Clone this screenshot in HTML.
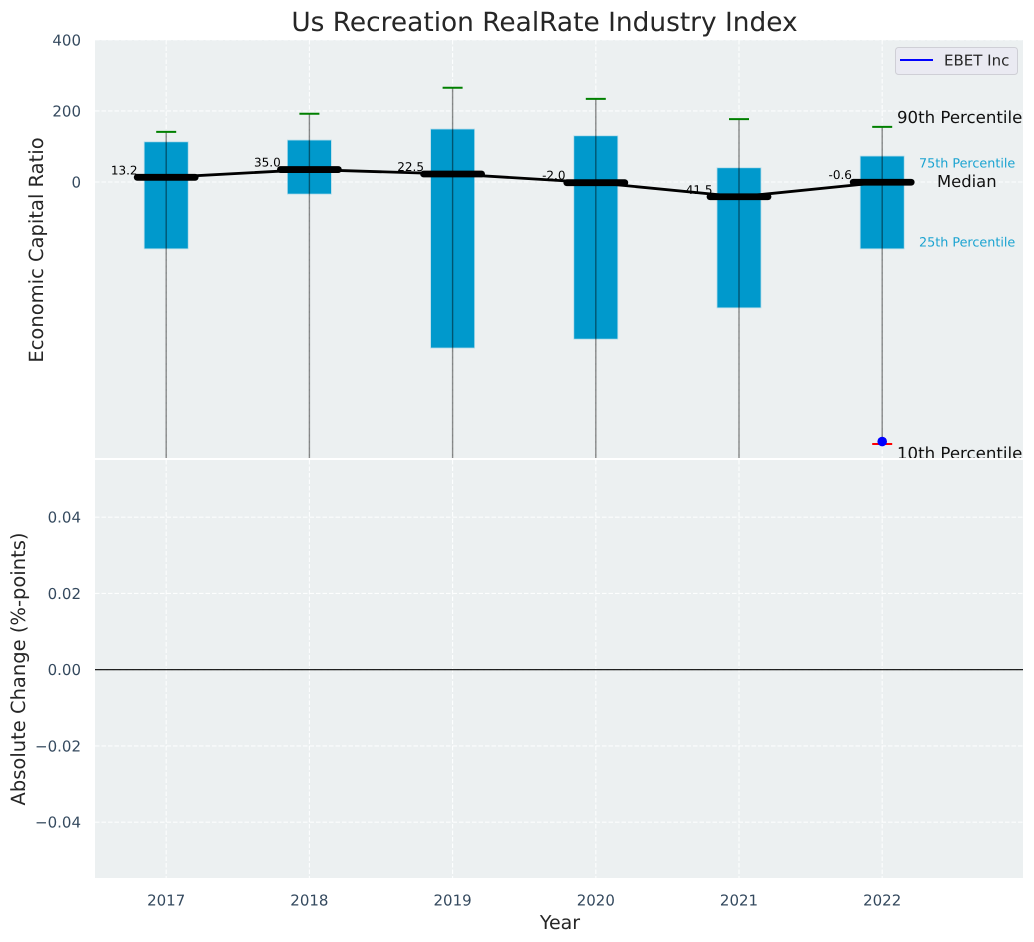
<!DOCTYPE html>
<html>
<head>
<meta charset="utf-8">
<title>Us Recreation RealRate Industry Index</title>
<style>
html,body{margin:0;padding:0;background:#fff;width:1034px;height:942px;overflow:hidden}
svg{display:block}
text{font-family:"DejaVu Sans","Liberation Sans",sans-serif;text-rendering:geometricPrecision}
</style>
</head>
<body>
<svg id="chart" xmlns="http://www.w3.org/2000/svg" width="1034" height="942" viewBox="0 0 1034 942"></svg>
<script>
const years = [2017, 2018, 2019, 2020, 2021, 2022];
const p90 = [141, 192, 265, 234, 177, 155];
const p75 = [113, 118, 149, 130, 40, 73];
const medians = [13.2, 35.0, 22.5, -2.0, -41.5, -0.6];
const p25 = [-188, -34, -467, -442, -354, -188];
const p10 = [-1400, -1300, -1500, -1500, -1300, -737];
const medianLabels = ["13.2", "35.0", "22.5", "-2.0", "-41.5", "-0.6"];
const companyYears = [2022];
const companyValues = [-730];
const topTicks = [0, 200, 400];
const bottomTicks = [-0.04, -0.02, 0, 0.02, 0.04];
const bottomTickLabels = ["\u22120.04", "\u22120.02", "0.00", "0.02", "0.04"];

const NS = "http://www.w3.org/2000/svg";
const svg = document.getElementById("chart");
const L = 95, R = 1023, T1 = 40, B1 = 458, T2 = 460, B2 = 878;
const X = v => 166.2 + (v - 2017) * 143.2;
const Y1 = v => 182 - v * 0.3555;
const Y2 = v => 669.7 - v * 3812;

function mk(tag, attrs, parent) {
  const el = document.createElementNS(NS, tag);
  for (const k in attrs) el.setAttribute(k, attrs[k]);
  (parent || svg).appendChild(el);
  return el;
}
function txt(str, attrs, parent) {
  const el = mk("text", attrs, parent);
  el.textContent = str;
  return el;
}
const gridStyle = {stroke:"#ffffff","stroke-width":1.1,"stroke-dasharray":"4.5 2","stroke-opacity":0.9};

/* clip for top axes */
const defs = mk("defs", {});
const cp = mk("clipPath", {id:"clipTop"}, defs);
mk("rect", {x:L, y:T1, width:R-L, height:B1-T1}, cp);

/* top panel */
const topBg = mk("rect", {x:L, y:T1, width:R-L, height:B1-T1, fill:"#ecf0f1"});



const topGrid = mk("g", gridStyle);


topTicks.forEach(t => mk("line", {x1:L, x2:R, y1:Y1(t), y2:Y1(t)}, topGrid));
years.forEach(y => mk("line", {x1:X(y), x2:X(y), y1:T1, y2:B1}, topGrid));

const marks = mk("g", {"clip-path":"url(#clipTop)"});



years.forEach((y, i) => {
  const x = X(y);
  const box = mk("rect", {x:x-22, y:Y1(p75[i]), width:44, height:Y1(p25[i])-Y1(p75[i]), fill:"#0099cc", stroke:"#b5dcea", "stroke-width":0.8}, marks);
  
  
  const whisk = mk("line", {x1:x, x2:x, y1:Y1(p90[i]), y2:Y1(p10[i]), stroke:"#000", "stroke-opacity":0.45, "stroke-width":1.4}, marks);
  
  
  const capHi = mk("line", {x1:x-10, x2:x+10, y1:Y1(p90[i]), y2:Y1(p90[i]), stroke:"#008000", "stroke-width":2}, marks);
  
  
  const capLo = mk("line", {x1:x-10, x2:x+10, y1:Y1(p10[i]), y2:Y1(p10[i]), stroke:"#ff0000", "stroke-width":2}, marks);
  
  
});

years.forEach((y, i) => {
  const lab = txt(medianLabels[i], {x:X(y)-42, y:Y1(medians[i])-3, "font-size":12, fill:"#000", "text-anchor":"middle"});
  
  
});

const medLine = mk("polyline", {points:years.map((y,i)=>X(y)+","+Y1(medians[i])).join(" "), fill:"none", stroke:"#000", "stroke-width":2.8}, marks);



years.forEach((y, i) => {
  const seg = mk("line", {x1:X(y)-29, x2:X(y)+29, y1:Y1(medians[i]), y2:Y1(medians[i]), stroke:"#000", "stroke-width":6.8, "stroke-linecap":"round"}, marks);
  
  
});

companyYears.forEach((y, i) => {
  const pt = mk("circle", {cx:X(y), cy:Y1(companyValues[i]), r:4.8, fill:"#0000ff"}, marks);
  
  
});

/* annotations */
const ann = [
  ["90th Percentile", 897, 123, 16.6, "#111"],
  ["75th Percentile", 919, 167.5, 12.75, "#1aa3d1"],
  ["Median", 937, 187, 16.4, "#111"],
  ["25th Percentile", 919, 246.5, 12.75, "#1aa3d1"],
  ["10th Percentile", 897, 459, 16.6, "#111"]
];
ann.forEach(a => {
  const t = txt(a[0], {x:a[1], y:a[2], "font-size":a[3], fill:a[4]});
  
  
});

/* top ticks */
topTicks.forEach(t => {
  const l = txt(String(t), {x:81, y:Y1(t)+5.5, "font-size":15, fill:"#34495e", "text-anchor":"end"});
  
  
});

/* legend */
const legend = mk("g", {});


mk("rect", {x:895.5, y:47.5, width:122, height:27, rx:3, fill:"#eaeaf2", stroke:"#cfcfd6", "stroke-width":1}, legend);
mk("line", {x1:900, x2:933, y1:60, y2:60, stroke:"#0000ff", "stroke-width":1.9}, legend);
txt("EBET Inc", {x:944, y:65.5, "font-size":15, fill:"#262626"}, legend);

/* bottom panel */
const gap = mk("rect", {x:L, y:B1, width:R-L, height:T2-B1, fill:"#ffffff"});


const botBg = mk("rect", {x:L, y:T2, width:R-L, height:B2-T2, fill:"#ecf0f1"});



const botGrid = mk("g", gridStyle);


bottomTicks.forEach(t => mk("line", {x1:L, x2:R, y1:Y2(t), y2:Y2(t)}, botGrid));
years.forEach(y => mk("line", {x1:X(y), x2:X(y), y1:T2, y2:B2}, botGrid));

const zero = mk("line", {x1:L, x2:R, y1:Y2(0), y2:Y2(0), stroke:"#000", "stroke-width":1.1});



bottomTicks.forEach((t, i) => {
  const l = txt(bottomTickLabels[i], {x:81, y:Y2(t)+5.5, "font-size":15, fill:"#34495e", "text-anchor":"end"});
  
  
});
years.forEach(y => {
  const l = txt(String(y), {x:X(y), y:905.5, "font-size":15, fill:"#34495e", "text-anchor":"middle"});
  
  
});

/* titles */
const title = txt("Us Recreation RealRate Industry Index", {x:544.5, y:31, "font-size":26.4, fill:"#262626", "text-anchor":"middle"});


const xTitle = txt("Year", {x:560, y:929, "font-size":19, fill:"#262626", "text-anchor":"middle"});


const y1Title = txt("Economic Capital Ratio", {transform:"translate(43,250) rotate(-90)", "font-size":19.5, fill:"#262626", "text-anchor":"middle"});


const y2Title = txt("Absolute Change (%-points)", {transform:"translate(25,669) rotate(-90)", "font-size":19.5, fill:"#262626", "text-anchor":"middle"});


</script>
</body>
</html>
